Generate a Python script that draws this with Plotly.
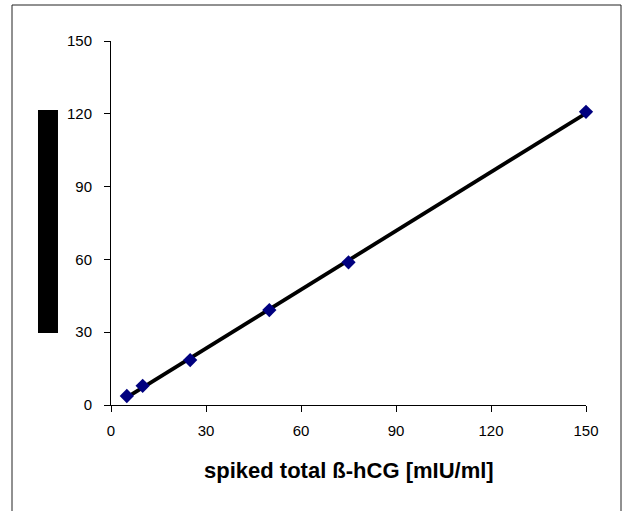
import numpy as np
import plotly.graph_objects as go

# Data
spiked = [5, 10, 25, 50, 75, 150]
measured = [3.7, 7.9, 18.5, 39.1, 58.8, 120.8]
x_ticks = [0, 30, 60, 90, 120, 150]
y_ticks = [0, 30, 60, 90, 120, 150]
x_title = "spiked total ß-hCG [mIU/ml]"

slope, intercept = np.polyfit(spiked, measured, 1)
fit_x = [min(spiked), max(spiked)]
fit_y = [slope * v + intercept for v in fit_x]

fig = go.Figure()
fig.add_trace(go.Scatter(
    x=fit_x, y=fit_y, mode="lines",
    line=dict(color="black", width=3.8),
    hoverinfo="skip", showlegend=False, cliponaxis=False,
))
fig.add_trace(go.Scatter(
    x=spiked, y=measured, mode="markers",
    marker=dict(symbol="diamond", size=11, color="#00007F",
                line=dict(width=0)),
    showlegend=False, cliponaxis=False,
))

axis_font = dict(family="Liberation Sans, Arial, sans-serif", size=15, color="black")
fig.update_xaxes(
    range=[0, 150], tickvals=x_ticks, ticks="outside", ticklen=6, tickwidth=1,
    tickcolor="black", showline=True, linecolor="black", linewidth=1,
    showgrid=False, zeroline=False, tickfont=axis_font, ticklabelstandoff=6,
)
fig.update_yaxes(
    range=[0, 150], tickvals=y_ticks, ticks="outside", ticklen=6, tickwidth=1,
    tickcolor="black", showline=True, linecolor="black", linewidth=1,
    showgrid=False, zeroline=False, tickfont=axis_font, ticklabelstandoff=9,
)

fig.add_annotation(
    text="<b>" + x_title + "</b>", xref="paper", yref="paper",
    x=0.5, y=-0.1786, xanchor="center", yanchor="middle", showarrow=False,
    font=dict(family="Liberation Sans, Arial, sans-serif", size=22, color="black"),
)

# outer chart border
fig.add_shape(type="rect", xref="paper", yref="paper",
              x0=-0.2084, x1=1.0737, y0=-0.30, y1=1.0989,
              line=dict(color="#222222", width=1), fillcolor="rgba(0,0,0,0)")
# black box where the y-axis title is
fig.add_shape(type="rect", xref="paper", yref="paper",
              x0=-0.1537, x1=-0.1116, y0=0.1978, y1=0.8104,
              line=dict(width=0), fillcolor="black")

fig.update_layout(
    width=626, height=511,
    margin=dict(l=111, r=40, t=41, b=106, autoexpand=False),
    paper_bgcolor="white", plot_bgcolor="white",
)

fig.write_html("out.html", config={"displayModeBar": False},
               post_script="document.body.style.margin='0';")
